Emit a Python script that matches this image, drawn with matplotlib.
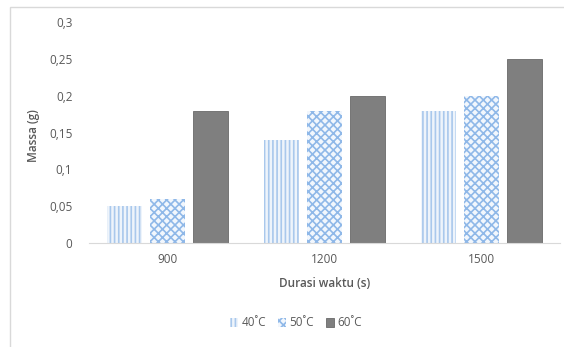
import matplotlib.pyplot as plt
import numpy as np
from matplotlib.patches import Rectangle
from matplotlib.ticker import FuncFormatter

# ---------- DATA ----------
durations = ["900", "1200", "1500"]
mass_40 = [0.05, 0.14, 0.18]
mass_50 = [0.06, 0.18, 0.20]
mass_60 = [0.18, 0.20, 0.25]
series_labels = ["40˚C", "50˚C", "60˚C"]
# --------------------------

plt.rcParams["font.family"] = ["Open Sans", "DejaVu Sans"]
plt.rcParams["hatch.linewidth"] = 1.2

TXT = "#595959"

fig = plt.figure(figsize=(5.64, 3.47), dpi=100)
ax = fig.add_axes([0.158, 0.2997, 0.835, 0.636])

# thin frame around the whole chart area
fig.patches.append(Rectangle((10 / 564, -0.05), 1.2, 1 - 7 / 347 + 0.05,
                             transform=fig.transFigure, fill=False,
                             edgecolor="#d9d9d9", linewidth=1.0))

x = np.arange(len(durations))
w = 0.223
step = 0.272

ax.bar(x - step, mass_40, w, facecolor="#eef4fb", edgecolor="#a9c8ec",
       linewidth=0, hatch="||||", label=series_labels[0])
ax.bar(x, mass_50, w, facecolor="#f2f7fd", edgecolor="#8fb8e8",
       linewidth=0, hatch="xxxx", label=series_labels[1])
ax.bar(x + step, mass_60, w, color="#7f7f7f", edgecolor="#6a6a6a",
       linewidth=0.6, label=series_labels[2])

ax.set_xlim(-0.5, 2.5)
ax.set_ylim(0, 0.3)
ax.set_yticks(np.arange(0, 0.301, 0.05))
ax.yaxis.set_major_formatter(FuncFormatter(
    lambda v, p: "0" if v == 0 else f"{v:.2f}".rstrip("0").replace(".", ",")))
ax.set_xticks(x)
ax.set_xticklabels(durations)

for s in ["top", "right", "left"]:
    ax.spines[s].set_visible(False)
ax.spines["bottom"].set_color("#d9d9d9")
ax.tick_params(axis="both", length=0, colors=TXT, labelsize=8.5)
ax.tick_params(axis="y", pad=12)
ax.tick_params(axis="x", pad=7)

ax.set_xlabel("Durasi waktu (s)", color=TXT, fontsize=8.5, fontweight="semibold",
              labelpad=8)
fig.text(34 / 564, 1 - 136 / 347, "Massa (g)", rotation=90, color=TXT,
         fontsize=8.5, fontweight="semibold", ha="center", va="center")

leg = fig.legend(loc="center", bbox_to_anchor=(296 / 564, 1 - 323 / 347), ncol=3,
                 frameon=False, fontsize=8.5, handlelength=0.7, handleheight=0.7,
                 handletextpad=0.3, columnspacing=1.0)
for t in leg.get_texts():
    t.set_color(TXT)

fig.savefig("out.png", dpi=100)
